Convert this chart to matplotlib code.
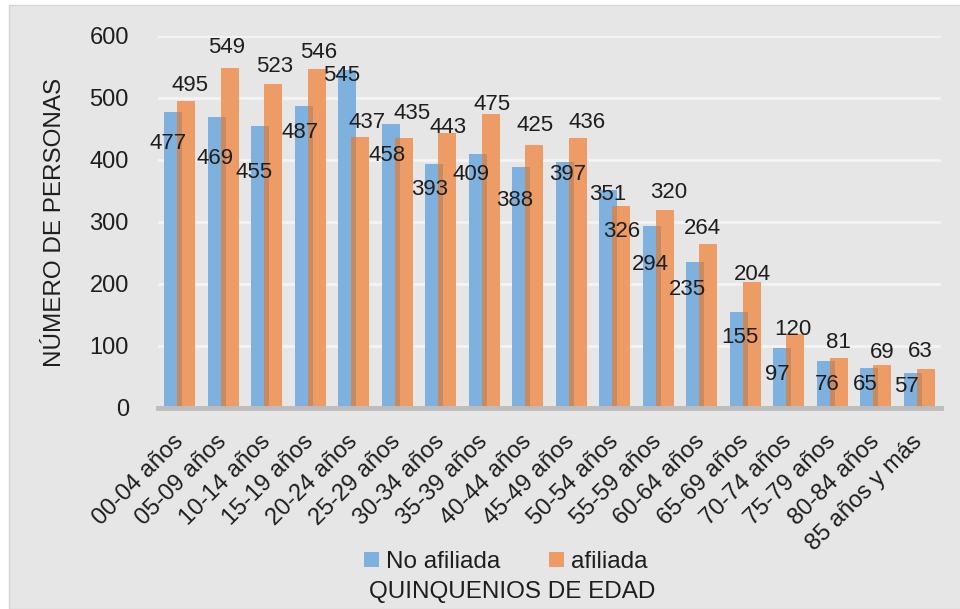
import numpy as np
import matplotlib
matplotlib.use("Agg")
import matplotlib.pyplot as plt
from matplotlib.patches import Rectangle

plt.rcParams['font.family'] = ['Liberation Sans', 'DejaVu Sans']

# Data
grupos = ['00-04 años', '05-09 años', '10-14 años', '15-19 años', '20-24 años',
          '25-29 años', '30-34 años', '35-39 años', '40-44 años', '45-49 años',
          '50-54 años', '55-59 años', '60-64 años', '65-69 años', '70-74 años',
          '75-79 años', '80-84 años', '85 años y más']
no_afiliada = [477, 469, 455, 487, 545, 458, 393, 409, 388, 397,
               351, 294, 235, 155, 97, 76, 65, 57]
afiliada = [495, 549, 523, 546, 437, 435, 443, 475, 425, 436,
            326, 320, 264, 204, 120, 81, 69, 63]

# label nudges in pixels (dx from group centre, dy from bar top)
nudge_no = [(-12, -31), (-8, -41), (-13, -47), (-10, -26), (-12, -5), (-10, -31),
            (-11, -25), (-13, -20), (-13, -33), (-4, -13), (-7, -4), (-8, -39),
            (-14, -27), (-5, -26), (-11, -27), (-5, -24), (-11, -17), (-13, -14)]
nudge_af = [(10, 16), (3, 20), (8, 17), (8, 17), (13, 15), (15, 25),
            (7, 6), (8, 9), (7, 19), (16, 15), (7, -26), (10, 17),
            (1, 16), (7, 7), (4, 4), (6, 15), (6, 13), (1, 17)]

azul = '#7fb1df'
naranja = '#ed9c66'
solape = '#c88a60'
fondo = '#e6e6e6'
texto = '#1e1e1e'

fig = plt.figure(figsize=(9.6, 6.09), dpi=100)
fig.patch.set_facecolor('white')
fig.patches.append(Rectangle((9 / 960, 0), 1, 1 - 5 / 609, transform=fig.transFigure,
                             facecolor=fondo, edgecolor='#d4d4d4', linewidth=1, zorder=-10))

ax = fig.add_axes([158 / 960, 1 - 408 / 609, (941 - 158) / 960, (408 - 36) / 609])
ax.set_facecolor(fondo)

x = np.arange(len(grupos))
off = 0.15
w = 0.41
ax.bar(x - off, no_afiliada, w, color=azul, label='No afiliada', zorder=2)
ax.bar(x + off, afiliada, w, color=naranja, label='afiliada', zorder=3)
# darker strip where the two bars overlap
ov = w - 2 * off
ax.bar(x, np.minimum(no_afiliada, afiliada), ov, color=solape, zorder=4)

for i in range(len(grupos)):
    dx, dy = nudge_no[i]
    ax.annotate(str(no_afiliada[i]), (x[i], no_afiliada[i]), xytext=(dx, dy),
                textcoords='offset pixels', ha='center', va='center',
                fontsize=16, color=texto, zorder=6)
    dx, dy = nudge_af[i]
    ax.annotate(str(afiliada[i]), (x[i], afiliada[i]), xytext=(dx, dy),
                textcoords='offset pixels', ha='center', va='center',
                fontsize=16, color=texto, zorder=6)

ax.set_xlim(-0.5, len(grupos) - 0.5)
ax.set_ylim(0, 600)
ax.set_yticks(np.arange(0, 601, 100))
ax.yaxis.grid(True, color='#f4f4f4', linewidth=2)
ax.set_axisbelow(True)
for s in ['top', 'right', 'left']:
    ax.spines[s].set_visible(False)
ax.spines['bottom'].set_color('#bdbdbd')
ax.spines['bottom'].set_linewidth(3.5)
ax.spines['bottom'].set_zorder(5)
ax.tick_params(axis='y', length=0, labelsize=17, labelcolor=texto, pad=21)
ax.set_xticks(x)
ax.set_xticklabels(grupos, rotation=45, ha='right', va='center', rotation_mode='anchor')
ax.tick_params(axis='x', length=0, labelsize=17, labelcolor=texto, pad=22)

ax.set_ylabel('NÚMERO DE PERSONAS', fontsize=17.5, color=texto, labelpad=17)
fig.text(512 / 960, 1 - 592 / 609, 'QUINQUENIOS DE EDAD', fontsize=17.5, color=texto,
         ha='center', va='center')

leg = fig.legend(loc='center', bbox_to_anchor=(506 / 960, 1 - 562 / 609), ncol=2,
                 frameon=False, fontsize=17.5, handlelength=0.6, handleheight=0.6,
                 handletextpad=0.3, columnspacing=2.0)
for t in leg.get_texts():
    t.set_color(texto)

fig.savefig('out.png', dpi=100, facecolor=fig.get_facecolor())
